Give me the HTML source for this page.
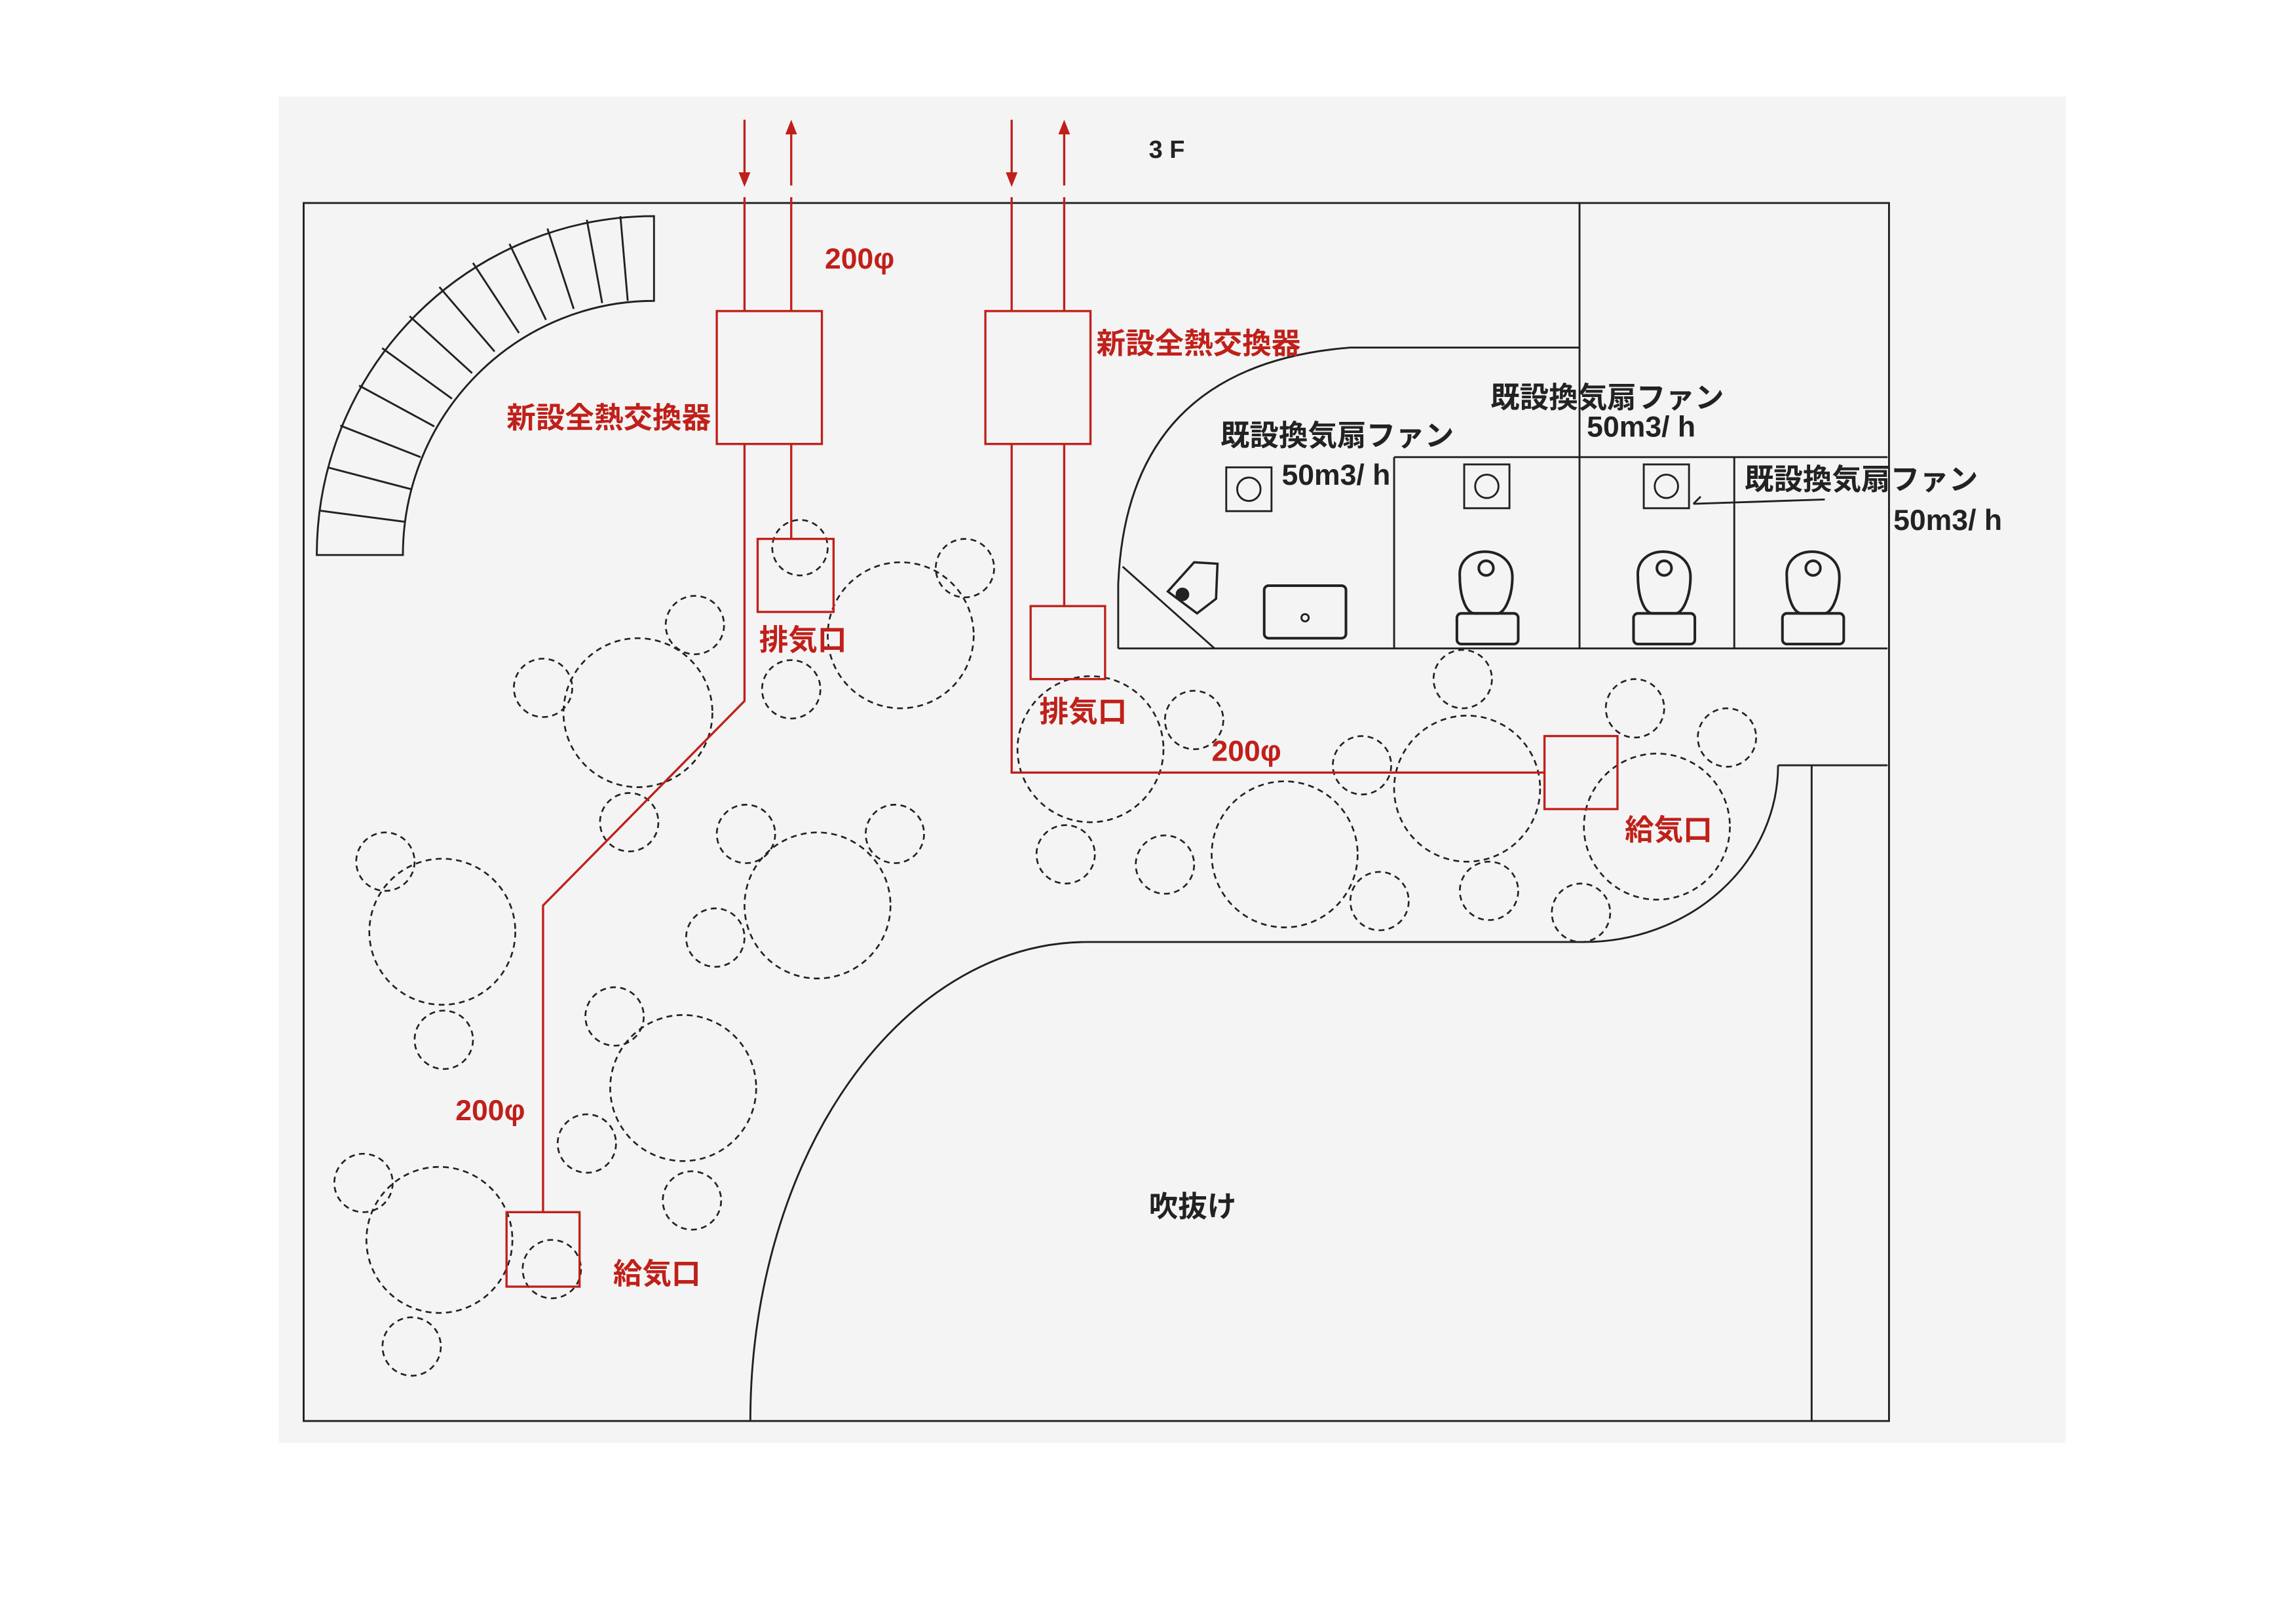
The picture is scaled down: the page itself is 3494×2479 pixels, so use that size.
<!DOCTYPE html>
<html><head><meta charset="utf-8"><style>
html,body{margin:0;padding:0;background:#fff;}
svg{display:block;}
text{font-family:"Liberation Sans","Noto Sans CJK JP",sans-serif;font-weight:bold;}
</style></head><body>
<svg width="3494" height="2479" viewBox="0 0 1568 1112" xmlns="http://www.w3.org/2000/svg" preserveAspectRatio="none">
<rect x="0" y="0" width="1600" height="1120" fill="#fff"/>
<rect x="191" y="66" width="1224" height="922" fill="#f4f4f4"/>
<g fill="none" stroke="#222" stroke-width="1.3">
<rect x="208" y="139" width="1086" height="834"/>
<line x1="1082" y1="139" x2="1082" y2="444"/>
<line x1="955" y1="313" x2="1293" y2="313"/>
<line x1="955" y1="313" x2="955" y2="444"/>
<line x1="1188" y1="313" x2="1188" y2="444"/>
<line x1="766" y1="444" x2="1293" y2="444"/>
<path d="M766,444 L766,400 Q772,250 925,238 L1082,238"/>
<line x1="769" y1="388" x2="832" y2="444"/>
<path d="M1218,524 L1293,524"/>
<line x1="1241" y1="524" x2="1241" y2="973"/>
<path d="M1218,524 A133,121 0 0 1 1085,645 L745,645 A231,328 0 0 0 514,973"/>
<path d="M217,380 A231,232 0 0 1 448,148 L448,206 A172,174 0 0 0 276,380 Z"/>
<line x1="218.6" y1="349.6" x2="277.5" y2="357.3"/>
<line x1="224.4" y1="320.0" x2="281.8" y2="335.0"/>
<line x1="233.1" y1="291.4" x2="288.1" y2="313.0"/>
<line x1="246.0" y1="264.0" x2="297.5" y2="292.0"/>
<line x1="261.8" y1="238.4" x2="309.6" y2="273.0"/>
<line x1="280.6" y1="216.5" x2="323.4" y2="255.5"/>
<line x1="301.0" y1="196.5" x2="338.8" y2="240.7"/>
<line x1="324.0" y1="180.0" x2="355.5" y2="228.0"/>
<line x1="349.0" y1="167.0" x2="374.0" y2="219.0"/>
<line x1="375.0" y1="156.5" x2="393.0" y2="211.5"/>
<line x1="402.0" y1="150.5" x2="412.5" y2="207.5"/>
<line x1="425.0" y1="148.0" x2="430.0" y2="206.0"/>
<rect x="840" y="320" width="31" height="30"/><circle cx="855.5" cy="335" r="8"/>
<rect x="1003" y="318" width="31" height="30"/><circle cx="1018.5" cy="333" r="8"/>
<rect x="1126" y="318" width="31" height="30"/><circle cx="1141.5" cy="333" r="8"/>
<path d="M1160,345 L1165,340 M1160,345 L1250,342"/>
<rect x="866" y="401" width="56" height="36" rx="3" stroke-width="1.8"/><circle cx="894" cy="423" r="2.5"/>
<path d="M800,405 L818,385 L834,386 L833,410 L820,420 Z" stroke-width="1.6"/>
<circle cx="810" cy="407" r="4" fill="#222"/>
<g stroke-width="1.8">
<path d="M1000,395 C998,372 1036,372 1036,395 C1036,410 1030,420 1026,420 L1010,420 C1005,420 1000,410 1000,395 Z"/><circle cx="1018" cy="389" r="5"/><rect x="998" y="420" width="42" height="21" rx="3"/>
<path d="M1122,395 C1120,372 1158,372 1158,395 C1158,410 1152,420 1148,420 L1132,420 C1127,420 1122,410 1122,395 Z"/><circle cx="1140" cy="389" r="5"/><rect x="1119" y="420" width="42" height="21" rx="3"/>
<path d="M1224,395 C1222,372 1260,372 1260,395 C1260,410 1254,420 1250,420 L1234,420 C1229,420 1224,410 1224,395 Z"/><circle cx="1242" cy="389" r="5"/><rect x="1221" y="420" width="42" height="21" rx="3"/>
</g>
</g>
<g fill="none" stroke="#222" stroke-width="1.2" stroke-dasharray="4,3">
<circle cx="548" cy="375" r="19"/><circle cx="617" cy="435" r="50"/><circle cx="661" cy="389" r="20"/><circle cx="476" cy="428" r="20"/>
<circle cx="372" cy="471" r="20"/><circle cx="437" cy="488" r="51"/><circle cx="542" cy="472" r="20"/><circle cx="264" cy="590" r="20"/>
<circle cx="303" cy="638" r="50"/><circle cx="431" cy="563" r="20"/><circle cx="511" cy="571" r="20"/><circle cx="560" cy="620" r="50"/>
<circle cx="613" cy="571" r="20"/><circle cx="490" cy="642" r="20"/><circle cx="304" cy="712" r="20"/><circle cx="421" cy="696" r="20"/>
<circle cx="468" cy="745" r="50"/><circle cx="402" cy="783" r="20"/><circle cx="474" cy="822" r="20"/><circle cx="249" cy="810" r="20"/>
<circle cx="301" cy="849" r="50"/><circle cx="378" cy="869" r="20"/><circle cx="282" cy="922" r="20"/><circle cx="747" cy="513" r="50"/>
<circle cx="818" cy="493" r="20"/><circle cx="730" cy="585" r="20"/><circle cx="798" cy="592" r="20"/><circle cx="880" cy="585" r="50"/>
<circle cx="933" cy="524" r="20"/><circle cx="945" cy="617" r="20"/><circle cx="1002" cy="465" r="20"/><circle cx="1005" cy="540" r="50"/>
<circle cx="1020" cy="610" r="20"/><circle cx="1083" cy="625" r="20"/><circle cx="1120" cy="485" r="20"/><circle cx="1183" cy="505" r="20"/>
<circle cx="1135" cy="566" r="50"/>
</g>
<g fill="none" stroke="#c0201a" stroke-width="1.5">
<line x1="510" y1="82" x2="510" y2="122"/><line x1="542" y1="88" x2="542" y2="127"/>
<line x1="693" y1="82" x2="693" y2="122"/><line x1="729" y1="88" x2="729" y2="127"/>
<line x1="510" y1="135" x2="510" y2="213"/><line x1="542" y1="135" x2="542" y2="213"/>
<line x1="693" y1="135" x2="693" y2="213"/><line x1="729" y1="135" x2="729" y2="213"/>
<rect x="491" y="213" width="72" height="91"/>
<rect x="675" y="213" width="72" height="91"/>
<polyline points="510,304 510,480 372,620 372,830"/>
<line x1="542" y1="304" x2="542" y2="369"/>
<rect x="519" y="369" width="52" height="50"/>
<rect x="347" y="830" width="50" height="51"/>
<line x1="729" y1="304" x2="729" y2="415"/>
<rect x="706" y="415" width="51" height="50"/>
<polyline points="693,304 693,529 1058,529"/>
<rect x="1058" y="504" width="50" height="50"/>
</g>
<g fill="#c0201a">
<polygon points="506,118 514,118 510,128"/><polygon points="538,92 546,92 542,82"/>
<polygon points="689,118 697,118 693,128"/><polygon points="725,92 733,92 729,82"/>
</g>
<g fill="#c0201a" font-size="20">
<text x="565" y="184">200φ</text>
<text x="487" y="293" text-anchor="end">新設全熱交換器</text>
<text x="751" y="242">新設全熱交換器</text>
<text x="520" y="445">排気口</text>
<text x="712" y="494">排気口</text>
<text x="830" y="521">200φ</text>
<text x="312" y="767">200φ</text>
<text x="420" y="879">給気口</text>
<text x="1113" y="575">給気口</text>
</g>
<g fill="#222" font-size="20">
<text x="787" y="108" font-size="17">3 F</text>
<text x="787" y="833">吹抜け</text>
<text x="836" y="305">既設換気扇ファン</text>
<text x="878" y="332">50m3/ h</text>
<text x="1021" y="279">既設換気扇ファン</text>
<text x="1087" y="299">50m3/ h</text>
<text x="1195" y="335">既設換気扇ファン</text>
<text x="1297" y="363">50m3/ h</text>
</g>
</svg>
</body></html>
